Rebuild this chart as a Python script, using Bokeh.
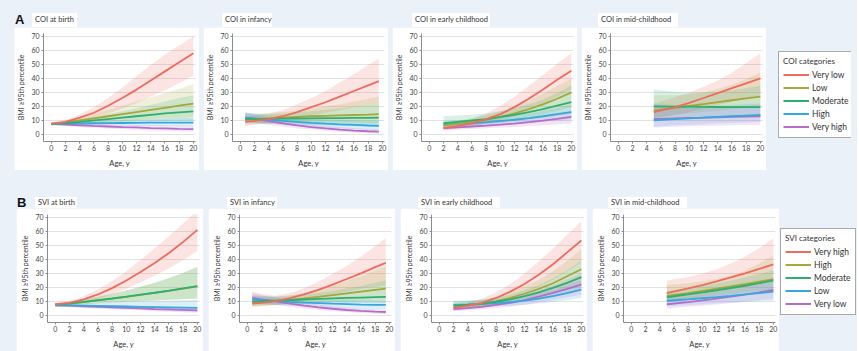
from bokeh.plotting import figure
from bokeh.layouts import row, column
from bokeh.models import Div, Spacer, FixedTicker, Legend, LegendItem
from bokeh.embed import file_html
from bokeh.resources import INLINE

BG = "#EAF1F9"
FONT = "Lato"
NAN = float("nan")

COI_CATEGORIES = ["Very low", "Low", "Moderate", "High", "Very high"]
SVI_CATEGORIES = ["Very high", "High", "Moderate", "Low", "Very low"]
CAT_COLORS = ["#EF6B5E", "#A6A63A", "#2EAF6F", "#37A7E0", "#B66CC8"]
LINE_ORDER = [4, 3, 1, 2, 0]  # drawing order of the mean lines (last on top)

X_TICKS = [0, 2, 4, 6, 8, 10, 12, 14, 16, 18, 20]
Y_TICKS = [0, 10, 20, 30, 40, 50, 60, 70]

AGE_BIRTH = [0, 2, 4, 6, 8, 10, 12, 14, 16, 18, 20]
AGE_INFANCY = [0.7, 2, 4, 6, 8, 10, 12, 14, 16, 18, 19.5]
AGE_EARLY = [2, 4, 6, 8, 10, 12, 14, 16, 18, 20]
AGE_MID = [5, 8, 10, 12, 14, 16, 18, 20]

# ---------------- COI at birth ----------------
COI_BIRTH_MEAN = {
    "Very low": [7.5, 9, 12, 15.5, 20.5, 26, 32, 38.5, 45, 51.5, 58],
    "Low": [7.5, 8.5, 10, 11.5, 13, 14.5, 16, 17.5, 19, 20.5, 22],
    "Moderate": [7.5, 8.2, 9, 10, 11, 12, 13, 14, 15, 15.8, 16.5],
    "High": [7.5, 7.7, 7.9, 8, 8.1, 8.2, 8.3, 8.4, 8.4, 8.5, 8.5],
    "Very high": [7.5, 7.1, 6.6, 6.1, 5.7, 5.3, 5, 4.6, 4.3, 4, 3.8],
}
COI_BIRTH_LO = {
    "Very low": [6.5, 7.8, 9.5, 12, 15, 18.5, 22.5, 27, 31.5, 36.5, 42],
    "Low": [6.5, 7, 7.8, 8.5, 9.2, 9.8, 10.4, 11, 11.5, 12, 12.5],
    "Moderate": [6.5, 7, 7.4, 7.8, 8.2, 8.6, 9, 9.3, 9.6, 9.8, 10],
    "High": [6.5, 6.6, 6.6, 6.5, 6.4, 6.3, 6.2, 6.1, 6, 5.9, 5.8],
    "Very high": [6.5, 6, 5.3, 4.7, 4.2, 3.7, 3.3, 2.9, 2.6, 2.3, 2],
}
COI_BIRTH_HI = {
    "Very low": [8.5, 10.5, 14.5, 19.5, 26, 33.5, 41.5, 49.5, 57, 63.5, 70],
    "Low": [8.5, 10, 12.5, 15, 17.5, 20.5, 23.5, 26.5, 29.5, 32.5, 36],
    "Moderate": [8.5, 9.5, 11, 12.5, 14.5, 16.5, 18.5, 21, 23.5, 26, 28],
    "High": [8.5, 8.9, 9.3, 9.7, 10, 10.3, 10.6, 10.9, 11.2, 11.5, 11.8],
    "Very high": [8.5, 8.2, 7.9, 7.6, 7.3, 7, 6.8, 6.6, 6.4, 6.2, 6],
}

# ---------------- COI in infancy ----------------
COI_INFANCY_MEAN = {
    "Very low": [9, 9.7, 11, 13, 16, 19.5, 23, 27, 31, 35, 38],
    "Low": [10.5, 11, 11.5, 12, 12.5, 13, 13.3, 13.6, 13.9, 14.2, 14.5],
    "Moderate": [11, 11, 11.2, 11.3, 11.4, 11.5, 11.6, 11.7, 11.8, 11.9, 12],
    "High": [12, 11.5, 10.5, 9.7, 9, 8.3, 7.7, 7.2, 6.8, 6.4, 6.2],
    "Very high": [12, 11, 9.5, 8, 6.5, 5.3, 4.3, 3.5, 2.8, 2.3, 2],
}
COI_INFANCY_LO = {
    "Very low": [6, 6.8, 8, 9.5, 11.5, 13.5, 15.5, 17.5, 19.5, 21, 22],
    "Low": [7, 7.5, 8, 8.3, 8.5, 8.6, 8.6, 8.5, 8.3, 8.1, 8],
    "Moderate": [8, 8, 7.8, 7.5, 7.2, 6.9, 6.6, 6.3, 6, 5.7, 5.5],
    "High": [9, 8.5, 7.7, 6.8, 6, 5.3, 4.7, 4.2, 3.8, 3.4, 3.2],
    "Very high": [9, 8.3, 7, 5.7, 4.5, 3.5, 2.6, 1.9, 1.3, 0.8, 0.5],
}
COI_INFANCY_HI = {
    "Very low": [13, 13.5, 15, 17.5, 21.5, 26, 31, 37, 43, 49.5, 54],
    "Low": [15, 15, 15.3, 16, 17, 18.5, 20, 21.5, 23.5, 25.5, 27],
    "Moderate": [15, 14.5, 14.5, 15, 15.8, 16.6, 17.5, 18.5, 19.7, 21, 22],
    "High": [16, 15, 13.5, 12.5, 12, 11.5, 11, 10.5, 10.2, 10, 9.8],
    "Very high": [15.5, 14, 12, 10.5, 8.8, 7.4, 6.3, 5.4, 4.7, 4.1, 3.8],
}

# ---------------- COI in early childhood ----------------
COI_EARLY_MEAN = {
    "Very low": [4.5, 6, 8, 11, 14.5, 19.5, 25.5, 32, 39, 45.5],
    "Low": [6.5, 7.5, 9, 10.5, 12.5, 15, 18, 21.5, 25.5, 30],
    "Moderate": [8, 9, 10, 11, 12.5, 14, 16, 18, 20.5, 23],
    "High": [7, 7.5, 8, 8.8, 9.6, 10.5, 11.7, 13, 14.5, 16],
    "Very high": [4.5, 5, 5.7, 6.3, 7, 7.8, 8.8, 9.9, 11.1, 12.5],
}
COI_EARLY_LO = {
    "Very low": [3, 4.3, 5.8, 7.8, 10, 13.5, 17.5, 22, 27, 32],
    "Low": [4.5, 5.3, 6.4, 7.5, 8.8, 10.5, 12.5, 14.5, 17, 19.5],
    "Moderate": [5, 6, 6.7, 7.5, 8.5, 9.5, 10.8, 12, 13.5, 15],
    "High": [5, 5.5, 6, 6.5, 7, 7.5, 8.2, 9, 9.8, 10.5],
    "Very high": [3, 3.4, 3.9, 4.4, 4.9, 5.4, 6, 6.6, 7.2, 8],
}
COI_EARLY_HI = {
    "Very low": [6.5, 8.3, 11, 15, 20.5, 27, 34.5, 42.5, 50.5, 58],
    "Low": [9, 10, 11.8, 13.8, 16.5, 20, 24, 29, 34.5, 40],
    "Moderate": [13, 13.5, 14, 15, 16.5, 18.5, 21.5, 25, 29.5, 35],
    "High": [9.5, 10, 10.5, 11.3, 12.3, 13.5, 15, 16.8, 19, 21.5],
    "Very high": [6.3, 6.8, 7.5, 8.3, 9.2, 10.2, 11.5, 13, 14.8, 17],
}

# ---------------- COI in mid-childhood ----------------
COI_MID_MEAN = {
    "Very low": [16, 19.5, 22.5, 26, 29.5, 33, 36.5, 40],
    "Low": [17, 19, 20.3, 21.7, 23, 24.4, 25.7, 27],
    "Moderate": [20, 19.9, 19.8, 19.7, 19.6, 19.5, 19.5, 19.5],
    "High": [10, 11, 11.5, 12, 12.5, 13, 13.5, 14],
    "Very high": [11, 11.5, 11.8, 12, 12.3, 12.5, 12.8, 13],
}
COI_MID_LO = {
    "Very low": [11, 14, 16, 18.5, 21, 23.5, 25.5, 27],
    "Low": [12, 14, 15, 16, 17, 18, 18.8, 19.5],
    "Moderate": [10, 11, 11.5, 12, 12.3, 12.5, 12.7, 13],
    "High": [5.5, 6.5, 7, 7.5, 8, 8.3, 8.6, 9],
    "Very high": [5, 5.5, 5.8, 6, 6.3, 6.5, 6.8, 7],
}
COI_MID_HI = {
    "Very low": [22, 26.5, 30, 34, 38.5, 44, 51, 58],
    "Low": [28, 28, 28.7, 30, 32.5, 35.5, 39.5, 44],
    "Moderate": [32, 30.5, 30, 30, 30.5, 31.5, 33, 35],
    "High": [22, 21, 20.5, 20.5, 20.5, 21, 21.5, 22],
    "Very high": [20, 19.5, 19.5, 19.5, 19.8, 20, 20.5, 21],
}

# ---------------- SVI at birth ----------------
SVI_BIRTH_MEAN = {
    "Very high": [8, 9, 11.5, 15, 19.5, 25, 31, 37.5, 44.5, 52.5, 61],
    "High": [7.8, 8.5, 9.6, 10.8, 12, 13.3, 14.7, 16.1, 17.6, 19.2, 20.8],
    "Moderate": [7.8, 8.6, 9.7, 10.9, 12.1, 13.4, 14.8, 16.2, 17.7, 19.3, 21],
    "Low": [7.3, 7.2, 7, 6.8, 6.6, 6.4, 6.2, 6, 5.8, 5.6, 5.4],
    "Very low": [7.3, 7, 6.6, 6.2, 5.8, 5.4, 5, 4.6, 4.3, 4, 3.7],
}
SVI_BIRTH_LO = {
    "Very high": [7, 7.8, 9.3, 11.8, 15, 19, 23.5, 28.5, 33.5, 39.5, 46],
    "High": [7, 7.4, 8, 8.6, 9.1, 9.6, 10.1, 10.6, 11.1, 11.6, 12],
    "Moderate": [7, 7.5, 8.1, 8.7, 9.2, 9.7, 10.2, 10.7, 11.2, 11.7, 12.2],
    "Low": [6.5, 6.2, 5.8, 5.4, 5, 4.6, 4.2, 3.8, 3.4, 3, 2.6],
    "Very low": [6.5, 6, 5.4, 4.9, 4.4, 3.9, 3.5, 3.1, 2.7, 2.3, 2],
}
SVI_BIRTH_HI = {
    "Very high": [9, 10.3, 13.8, 18.5, 24.5, 31.5, 39.5, 48, 56.5, 65.5, 75],
    "High": [8.7, 9.7, 11.4, 13.3, 15.4, 17.8, 20.4, 23.3, 26.6, 30.3, 34.5],
    "Moderate": [8.7, 9.8, 11.5, 13.4, 15.5, 17.9, 20.5, 23.4, 26.7, 30.5, 34.8],
    "Low": [8.2, 8.4, 8.7, 9, 9.3, 9.6, 9.9, 10.2, 10.5, 10.8, 11.1],
    "Very low": [8.1, 8, 7.8, 7.5, 7.2, 6.9, 6.6, 6.3, 6, 5.7, 5.4],
}

# ---------------- SVI in infancy ----------------
SVI_INFANCY_MEAN = {
    "Very high": [8.5, 9, 10.3, 12.3, 15, 18.3, 22, 26, 30, 34.5, 37.5],
    "High": [9, 9.5, 10.3, 11.2, 12.2, 13.3, 14.5, 15.7, 17, 18.3, 19.2],
    "Moderate": [10, 10.2, 10.6, 11, 11.4, 11.8, 12.2, 12.5, 12.8, 13.1, 13.3],
    "Low": [11.5, 11, 10.3, 9.7, 9.2, 8.8, 8.4, 8.1, 7.8, 7.6, 7.5],
    "Very low": [12.5, 11.5, 10, 8.5, 7, 5.8, 4.8, 3.9, 3.3, 2.8, 2.5],
}
SVI_INFANCY_LO = {
    "Very high": [6, 6.5, 7.5, 9, 11, 13, 15, 17, 19, 20.5, 21.5],
    "High": [6.5, 7, 7.6, 8.2, 8.8, 9.3, 9.8, 10.2, 10.6, 11, 11.2],
    "Moderate": [7, 7.3, 7.7, 8, 8.3, 8.5, 8.6, 8.7, 8.7, 8.7, 8.7],
    "Low": [8.5, 8.2, 7.6, 7, 6.4, 5.9, 5.4, 5, 4.7, 4.4, 4.2],
    "Very low": [9.5, 8.8, 7.5, 6.2, 5, 4, 3.1, 2.4, 1.8, 1.3, 1],
}
SVI_INFANCY_HI = {
    "Very high": [17, 15.5, 14, 16, 19.5, 24, 29.5, 35.5, 42, 49.5, 55],
    "High": [12.5, 12.5, 13, 14.3, 16, 18.3, 21, 24.5, 28, 32, 35],
    "Moderate": [14, 13.8, 13.8, 14.2, 15, 16, 17.5, 19.2, 21, 23.3, 25],
    "Low": [14.5, 14, 13, 12.4, 12, 11.7, 11.5, 11.3, 11.2, 11.1, 11],
    "Very low": [16, 14.5, 12.5, 10.8, 9.2, 7.8, 6.7, 5.7, 5, 4.4, 4],
}

# ---------------- SVI in early childhood ----------------
SVI_EARLY_MEAN = {
    "Very high": [5.5, 7, 9, 12.5, 17, 22.5, 29, 36.5, 45, 53.5],
    "High": [6, 7, 8.3, 10, 12.5, 15.5, 19, 23, 28, 33],
    "Moderate": [7, 7.7, 8.5, 9.8, 11.5, 13.8, 16.5, 19.7, 23.3, 27.3],
    "Low": [7.5, 7.8, 8.2, 8.8, 9.6, 10.6, 12, 13.8, 16, 18.5],
    "Very low": [4.5, 5.2, 6.2, 7.5, 9, 11, 13.4, 16.2, 19, 22],
}
SVI_EARLY_LO = {
    "Very high": [3.5, 5, 6.5, 9, 12, 16, 20.5, 25.5, 31.5, 38],
    "High": [4, 5, 6, 7.2, 9, 11, 13.3, 16, 19, 22.5],
    "Moderate": [5, 5.5, 6.2, 7.1, 8.3, 9.8, 11.6, 13.7, 16, 18.5],
    "Low": [5.5, 5.8, 6.1, 6.5, 7, 7.7, 8.6, 9.7, 11, 12.5],
    "Very low": [3, 3.6, 4.4, 5.3, 6.4, 7.7, 9.3, 11.1, 13, 15],
}
SVI_EARLY_HI = {
    "Very high": [8, 9.5, 12, 16.5, 22.5, 30, 38.5, 47.5, 57.5, 67],
    "High": [8.5, 9.5, 11, 13, 16.5, 20.5, 25.5, 31.5, 39, 47],
    "Moderate": [10, 10.5, 11.4, 12.8, 15, 18, 21.7, 26.3, 32, 39],
    "Low": [10.5, 10.6, 10.9, 11.5, 12.4, 13.8, 15.7, 18.2, 21.3, 25],
    "Very low": [6.5, 7.2, 8.4, 10, 12, 14.6, 17.8, 21.5, 25.5, 29.5],
}

# ---------------- SVI in mid-childhood ----------------
SVI_MID_MEAN = {
    "Very high": [16, 19.3, 21.7, 24.3, 27.1, 30.1, 33.2, 36.5],
    "High": [14, 16, 17.5, 19.1, 20.7, 22.4, 24.2, 26],
    "Moderate": [13, 15, 16.5, 18, 19.6, 21.2, 23, 25],
    "Low": [10.5, 11.5, 12.3, 13.1, 14, 15, 16, 17],
    "Very low": [8, 9.5, 10.7, 12, 13.4, 14.9, 16.5, 18.2],
}
SVI_MID_LO = {
    "Very high": [9, 12, 14, 16, 18, 20, 22, 24],
    "High": [10, 12, 13, 14.2, 15.3, 16.5, 17.5, 18.5],
    "Moderate": [9.5, 11, 12.2, 13.3, 14.5, 15.6, 16.8, 18],
    "Low": [6.5, 7.5, 8.1, 8.7, 9.2, 9.7, 10.2, 10.5],
    "Very low": [5, 6.2, 7, 7.9, 8.8, 9.8, 10.8, 11.8],
}
SVI_MID_HI = {
    "Very high": [25, 27.5, 30, 33, 37, 42, 48, 55],
    "High": [22, 23, 24.3, 26, 28.5, 32, 37, 43],
    "Moderate": [17.5, 19.5, 21, 22.8, 24.8, 27, 29.5, 32.5],
    "Low": [15, 16, 17, 18, 19.5, 21, 23, 25],
    "Very low": [11.5, 13, 14.5, 16, 17.8, 19.8, 22, 24.5],
}

PANEL_TITLES_COI = ["COI at birth", "COI in infancy", "COI in early childhood", "COI in mid-childhood"]
PANEL_TITLES_SVI = ["SVI at birth", "SVI in infancy", "SVI in early childhood", "SVI in mid-childhood"]


def sp(w, h):
    return Spacer(width=w, height=h, margin=(0, 0, 0, 0))


def tab_div(text, w, h):
    return Div(text=text, width=w, height=h, margin=(0, 0, 0, 0),
               styles={"background-color": "white", "font-size": "7.5px",
                       "font-family": FONT, "color": "#333333",
                       "line-height": "%dpx" % h, "padding-left": "3px",
                       "box-sizing": "border-box", "white-space": "nowrap",
                       "overflow": "hidden"})


def letter_div(text, w, h):
    return Div(text=text, width=w, height=h, margin=(0, 0, 0, 0),
               styles={"font-size": "13px", "font-weight": "bold",
                       "font-family": "Liberation Sans", "color": "#111111",
                       "line-height": "%dpx" % h})


def make_panel(ages, mean, lo, hi, cats, cfg):
    p = figure(width=cfg["w"], height=cfg["h"], x_range=(-1.1, 20.3), y_range=(-5, 72),
               title=None, output_backend="svg", toolbar_location=None,
               min_border_left=cfg["left"], min_border_right=cfg["right"],
               min_border_top=cfg["top"], min_border_bottom=cfg["bottom"],
               background_fill_color="white", border_fill_color="white",
               outline_line_color=None, margin=(0, 0, 0, 0))
    for cat, col in zip(cats, CAT_COLORS):
        p.varea(x=ages, y1=lo[cat], y2=hi[cat], fill_color=col, fill_alpha=0.18)
    for k in LINE_ORDER:
        p.line(ages, mean[cats[k]], line_color=CAT_COLORS[k], line_width=1.8)
    p.xaxis.ticker = FixedTicker(ticks=X_TICKS)
    p.yaxis.ticker = FixedTicker(ticks=Y_TICKS)
    p.xgrid.visible = False
    p.ygrid.grid_line_color = "#E2E2E2"
    p.xaxis.axis_label = "Age, y"
    p.yaxis.axis_label = "BMI \u226595th percentile"
    for ax in (p.xaxis, p.yaxis):
        ax.axis_line_color = "#8C8C8C"
        ax.major_tick_line_color = "#8C8C8C"
        ax.minor_tick_line_color = None
        ax.major_tick_out = 2
        ax.major_tick_in = 0
        ax.major_label_text_font = FONT
        ax.major_label_text_font_size = "7px"
        ax.major_label_text_color = "#444444"
        ax.axis_label_text_font = FONT
        ax.axis_label_text_font_style = "normal"
        ax.axis_label_text_color = "#333333"
    p.xaxis.major_label_standoff = 1
    p.yaxis.major_label_standoff = 2
    p.xaxis.axis_label_text_font_size = "7.5px"
    p.yaxis.axis_label_text_font_size = "7px"
    p.xaxis.axis_label_standoff = cfg["xstand"]
    p.yaxis.axis_label_standoff = 3
    return p


def make_legend(cats, title, w, h, loc_y):
    p = figure(width=w, height=h, x_range=(0, 1), y_range=(0, 1), title=None,
               output_backend="svg", toolbar_location=None, min_border=0,
               x_axis_location=None, y_axis_location=None,
               background_fill_color=BG, border_fill_color=BG,
               outline_line_color=None, margin=(0, 0, 0, 0))
    p.grid.visible = False
    items = []
    for cat, col in zip(cats, CAT_COLORS):
        # placeholder renderer (no visible data) used only for the legend swatch
        r = p.line(x=[NAN], y=[NAN], line_color=col, line_width=2)
        items.append(LegendItem(label=cat, renderers=[r]))
    leg = Legend(items=items, title=title, location=(1, loc_y),
                 title_text_font=FONT, title_text_font_size="8px",
                 title_text_font_style="normal", title_text_color="#333333",
                 label_text_font=FONT, label_text_font_size="8.5px",
                 label_text_color="#333333", glyph_width=26, glyph_height=13,
                 label_height=13, label_standoff=3, spacing=0, padding=4,
                 margin=0, title_standoff=2, border_line_color="#555555",
                 border_line_width=1.3, background_fill_color="white",
                 background_fill_alpha=1.0)
    p.add_layout(leg)
    return p


def make_row(titles, data, ages_list, cats, cfg, lead, tabs, letter, letter_off,
             gaps, leg_gap, leg_w, leg_title, leg_y):
    full_h = cfg["tab"] + cfg["h"]
    children = [sp(lead, full_h)]
    for i, (ttl, (mean, lo, hi), ages) in enumerate(zip(titles, data, ages_list)):
        off, tw = tabs[i]
        if i == 0:
            tab_row = row(sp(letter_off, cfg["tab"]), letter_div(letter, 12, cfg["tab"]),
                          sp(off - letter_off - 12, cfg["tab"]), tab_div(ttl, tw, cfg["tab"]),
                          spacing=0)
        else:
            tab_row = row(sp(off, cfg["tab"]), tab_div(ttl, tw, cfg["tab"]), spacing=0)
        fig = make_panel(ages, mean, lo, hi, cats, cfg)
        children.append(column(tab_row, fig, spacing=0))
        if i < 3:
            children.append(sp(gaps, full_h))
    if leg_gap > 0:
        children.append(sp(leg_gap, full_h))
    children.append(make_legend(cats, leg_title, leg_w, full_h, leg_y))
    return row(*children, spacing=0)


AGES = [AGE_BIRTH, AGE_INFANCY, AGE_EARLY, AGE_MID]
COI_DATA = [(COI_BIRTH_MEAN, COI_BIRTH_LO, COI_BIRTH_HI),
            (COI_INFANCY_MEAN, COI_INFANCY_LO, COI_INFANCY_HI),
            (COI_EARLY_MEAN, COI_EARLY_LO, COI_EARLY_HI),
            (COI_MID_MEAN, COI_MID_LO, COI_MID_HI)]
SVI_DATA = [(SVI_BIRTH_MEAN, SVI_BIRTH_LO, SVI_BIRTH_HI),
            (SVI_INFANCY_MEAN, SVI_INFANCY_LO, SVI_INFANCY_HI),
            (SVI_EARLY_MEAN, SVI_EARLY_LO, SVI_EARLY_HI),
            (SVI_MID_MEAN, SVI_MID_LO, SVI_MID_HI)]

cfg_a = dict(w=185, h=143, left=29, right=4, top=6, bottom=27, tab=14, xstand=5)
cfg_b = dict(w=187, h=143, left=31, right=4, top=6, bottom=25, tab=11, xstand=5)

row_a = make_row(PANEL_TITLES_COI, COI_DATA, AGES, COI_CATEGORIES, cfg_a, 14,
                 [(18, 45), (19, 50), (20, 78), (17, 80)], "A", 1, 4, 11, 74,
                 "COI categories", 32)
row_b = make_row(PANEL_TITLES_SVI, SVI_DATA, AGES, SVI_CATEGORIES, cfg_b, 16,
                 [(19, 42), (19, 50), (18, 82), (16, 79)], "B", 1, 5, 0, 78,
                 "SVI categories", 36)

root = column(sp(857, 13), row_a, sp(857, 27), row_b, spacing=0,
              styles={"background-color": BG})

open("out.html", "w").write(file_html(root, INLINE))
